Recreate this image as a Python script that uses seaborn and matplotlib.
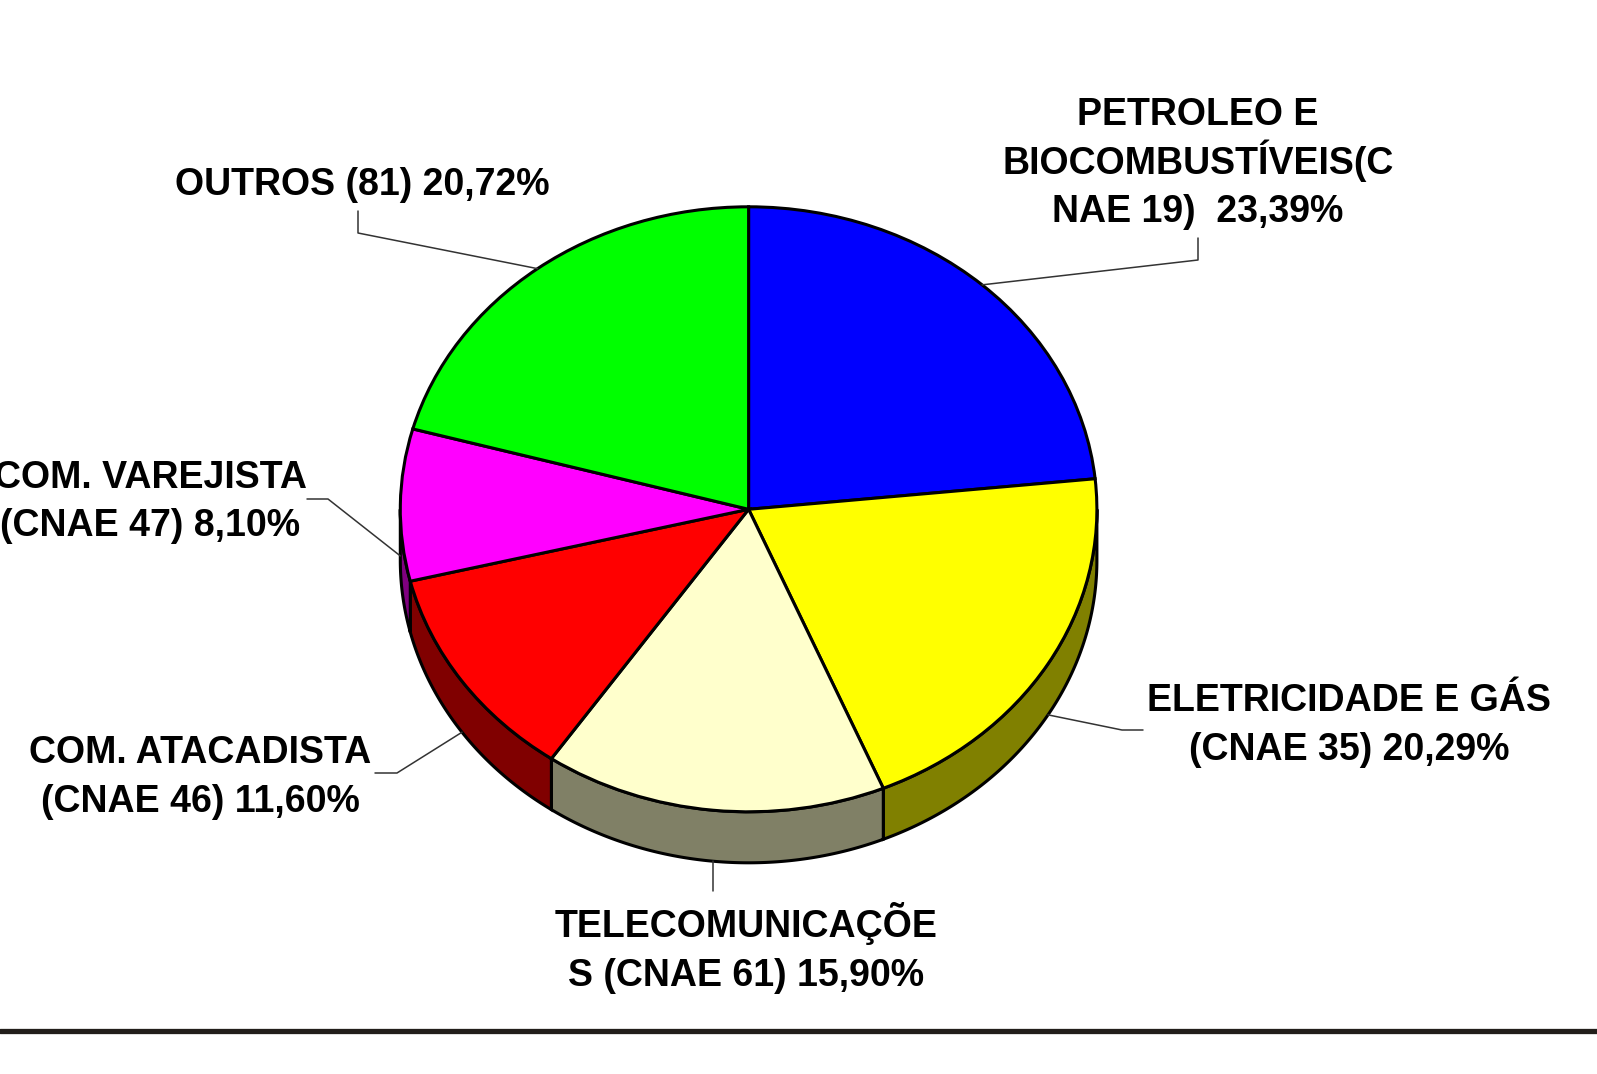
import numpy as np
import seaborn as sns
import matplotlib
matplotlib.use("Agg")
import matplotlib.pyplot as plt

# dados do grafico (fatias no sentido horario a partir do topo)
fatias = ["PETROLEO", "ELETRICIDADE", "TELECOM", "ATACADISTA", "VAREJISTA", "OUTROS"]
percentuais = [23.39, 20.29, 15.90, 11.60, 8.10, 20.72]
cores = ["#0000FF", "#FFFF00", "#FFFFCC", "#FF0000", "#FF00FF", "#00FF00"]
rotulos = [
    ["PETROLEO E", "BIOCOMBUSTÍVEIS(C", "NAE 19)  23,39%"],
    ["ELETRICIDADE E GÁS", "(CNAE 35) 20,29%"],
    ["TELECOMUNICAÇÕE", "S (CNAE 61) 15,90%"],
    ["COM. ATACADISTA", "(CNAE 46) 11,60%"],
    ["COM. VAREJISTA", "(CNAE 47) 8,10%"],
    ["OUTROS (81) 20,72%"],
]

sns.set_style("white")
plt.rcParams["font.family"] = ["Liberation Sans", "DejaVu Sans"]

W, H = 1597, 1074
CX, CY, RX, RY, PROF = 748.6, 509.3, 348.3, 302.5, 51.0
prof = PROF / RY


def px(x, y):
    # pixel -> coordenadas da pizza (circulo unitario)
    return (x - CX) / RX, (CY - y) / RY


fig = plt.figure(figsize=(W / 100, H / 100), dpi=100)
ax = fig.add_axes([0, 0, 1, 1])

# lateral 3D (so a metade de baixo aparece)
lateral = [tuple(c * 0.5 for c in rgb) for rgb in sns.color_palette(cores)]
fim = 90 - np.concatenate([[0], np.cumsum(percentuais)[:-1]]) * 3.6
ini = fim - np.array(percentuais) * 3.6
for t1, t2, cor in zip(ini, fim, lateral):
    lo, hi = max(t1, -180), min(t2, 0)
    if lo >= hi:
        continue
    t = np.radians(np.linspace(lo, hi, 200))
    xs = np.concatenate([np.cos(t), np.cos(t[::-1])])
    ys = np.concatenate([np.sin(t), np.sin(t[::-1]) - prof])
    ax.fill(xs, ys, facecolor=cor, edgecolor="black", linewidth=2.2, zorder=1)

# face de cima
ax.pie(percentuais, startangle=90, counterclock=False, colors=cores,
       wedgeprops=dict(edgecolor="black", linewidth=2.2, zorder=2))
ax.set_aspect("auto")
ax.set_xlim(px(0, 0)[0], px(W, 0)[0])
ax.set_ylim(px(0, H)[1], px(0, 0)[1])
ax.axis("off")

# posicoes dos rotulos: centro x, primeira linha (baseline) e pontos da linha guia
layout = [
    (1198, 125, [(1198, 260), (1198, 238)]),
    (1349, 711, [(1122, 730), (1143, 730)]),
    (746, 937, [(None, 891)]),
    (200, 763, [(397, 773), (375, 773)]),
    (150, 488, [(328, 499), (307, 499)]),
    (362, 195, [(358, 233), (358, 211)]),
]

for t1, t2, linhas, (lx, ly, guia) in zip(ini, fim, rotulos, layout):
    m = np.radians((t1 + t2) / 2)
    x0, y0 = np.cos(m), np.sin(m)
    if y0 < 0.1:
        y0 -= prof
    gx, gy = [x0], [y0]
    for p in guia:
        gxp = p[0] if p[0] is not None else CX + x0 * RX
        a, b = px(gxp, p[1])
        gx.append(a)
        gy.append(b)
    ax.plot(gx, gy, color="#333333", linewidth=1.1, zorder=3)
    for i, linha in enumerate(linhas):
        ax.text(*px(lx, ly + i * 48.5), linha, ha="center", va="baseline",
                fontsize=27, fontweight="bold", color="black", zorder=4)

# linha escura no rodape
ax.axhline(px(0, 1030.5)[1], color="#221e1a", linewidth=3.8, zorder=3)

plt.savefig("out.png", dpi=100)
